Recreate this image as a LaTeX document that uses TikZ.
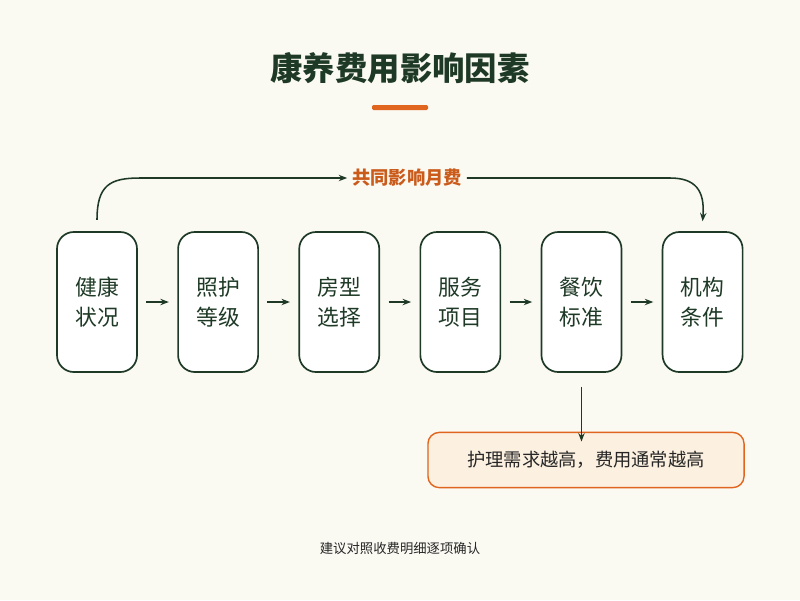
\documentclass[tikz,border=0pt]{standalone}
\usepackage{fontspec}
\setmainfont{Noto Sans CJK SC}
\usetikzlibrary{positioning,arrows.meta}
\definecolor{bgcream}{HTML}{FAF9F2}
\definecolor{darkgreen}{HTML}{1E3A26}
\definecolor{accent}{HTML}{E0651E}
\definecolor{notefill}{HTML}{FCF0E0}
\tikzset{
    stepsty/.style={draw=darkgreen,line width=1.2pt,fill=white,rounded corners=12pt,
        minimum width=2cm,minimum height=3.5cm,align=center,text=darkgreen,
        font=\fontsize{15.5}{21}\selectfont},
    flowsty/.style={-{Stealth[length=6pt]},draw=darkgreen,line width=1.1pt},
    notesty/.style={draw=accent,line width=1pt,fill=notefill,rounded corners=8pt,
        minimum width=7.9cm,minimum height=1.38cm,text=black!85,
        font=\fontsize{13}{15}\selectfont},
}
\begin{document}
\begin{tikzpicture}[x=0.025cm,y=-0.025cm]
\fill[bgcream] (0,0) rectangle (800,600);
\useasboundingbox (0,0) rectangle (800,600);
\node (title) at (400,68) [text=darkgreen,font=\fontsize{23}{27}\selectfont\bfseries]{康养费用影响因素};
\fill[accent,rounded corners=1pt] (372,105) rectangle (428,110);

\node[stepsty] (s1) at (97,302) {健康\\状况};
\node[stepsty,right=0.985cm of s1] (s2) {照护\\等级};
\node[stepsty,right=0.985cm of s2] (s3) {房型\\选择};
\node[stepsty,right=0.985cm of s3] (s4) {服务\\项目};
\node[stepsty,right=0.985cm of s4] (s5) {餐饮\\标准};
\node[stepsty,right=0.985cm of s5] (s6) {机构\\条件};
\foreach \a/\b in {s1/s2,s2/s3,s3/s4,s4/s5,s5/s6}
  \draw[flowsty] ([xshift=6pt]\a.east) -- ([xshift=-6pt]\b.west);

\node (shared) at (407,178) [text=accent!90!black,font=\fontsize{13}{15}\selectfont\bfseries]{共同影响月费};
\draw[flowsty] ([yshift=8pt]s1.north) .. controls (97,185) and (110,178) .. (140,178) -- (shared.west);
\draw[flowsty] (shared.east) -- (670,178) .. controls (695,178) and (705,190) .. ([yshift=7pt]s6.north);

\node[notesty] (note) at (586,460) {护理需求越高，费用通常越高};
\draw[flowsty] ([yshift=-10pt]s5.south) -- ([yshift=-7pt]note.north -| s5.south);

\node (foot) at (400,548) [text=black!85,font=\fontsize{9.5}{11}\selectfont]{建议对照收费明细逐项确认};
\end{tikzpicture}
\end{document}
